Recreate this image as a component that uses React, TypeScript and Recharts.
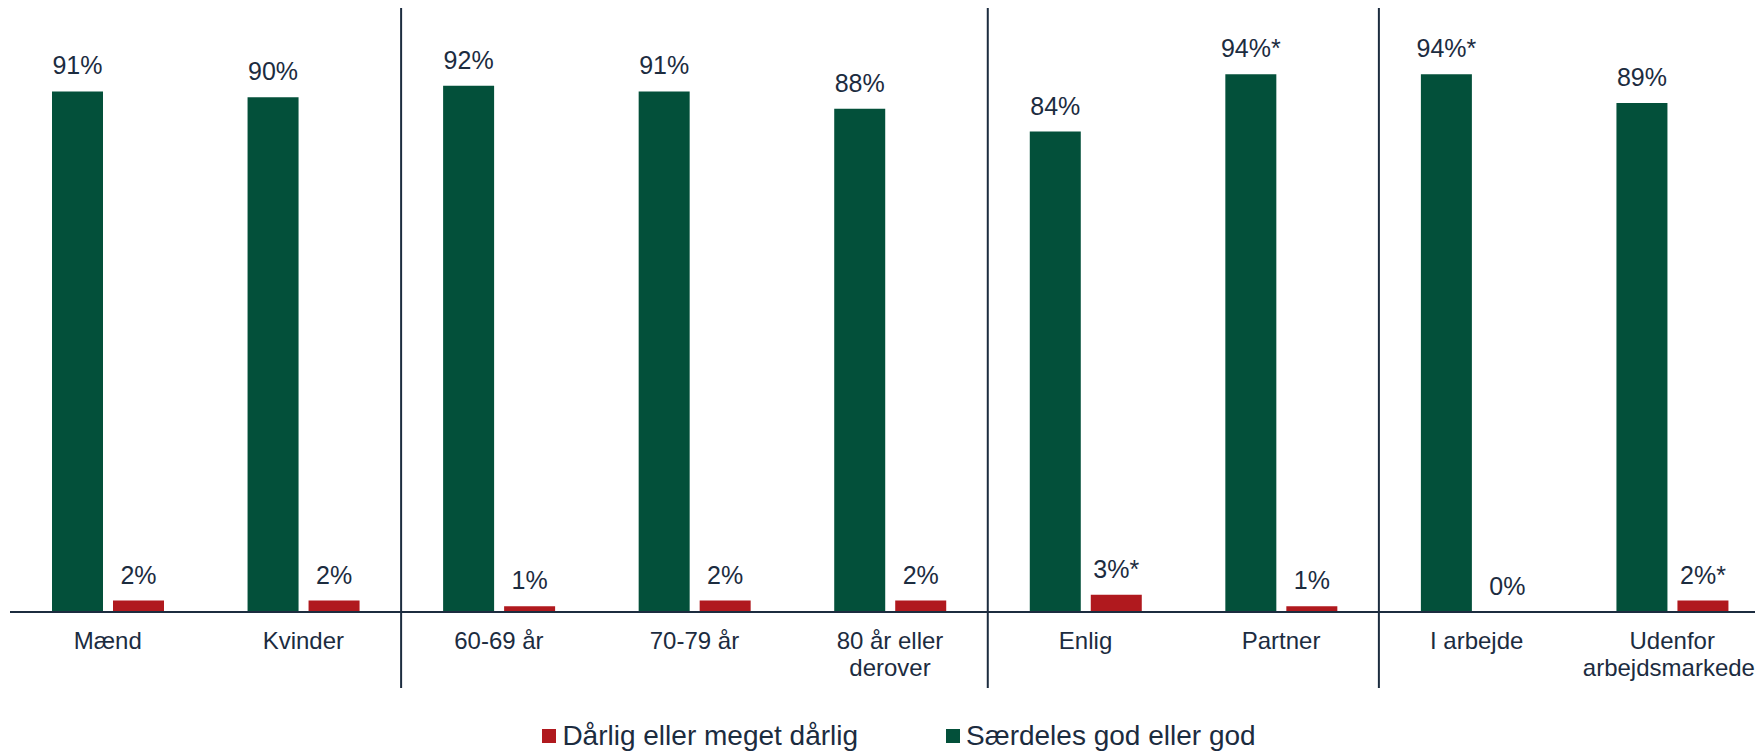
import React from 'react'
import { BarChart, Bar, XAxis, YAxis, LabelList, Legend } from 'recharts'

const categories = [
  'Mænd',
  'Kvinder',
  '60-69 år',
  '70-79 år',
  '80 år eller\nderover',
  'Enlig',
  'Partner',
  'I arbejde',
  'Udenfor\narbejdsmarkedet',
]
const goodValues = [91, 90, 92, 91, 88, 84, 94, 94, 89]
const goodLabels = ['91%', '90%', '92%', '91%', '88%', '84%', '94%*', '94%*', '89%']
const badValues = [2, 2, 1, 2, 2, 3, 1, 0, 2]
const badLabels = ['2%', '2%', '1%', '2%', '2%', '3%*', '1%', '0%', '2%*']
// a divider is drawn before these categories (Alder, Civilstand, Arbejde)
const groupStarts = [2, 5, 7]

const GREEN = '#03503a'
const RED = '#b0191e'
const INK = '#1c2c3f'

const legendItems = [
  { name: 'Dårlig eller meget dårlig', color: RED },
  { name: 'Særdeles god eller god', color: GREEN },
]

const data = categories.map((c, i) => ({
  category: c,
  good: goodValues[i],
  goodLabel: goodLabels[i],
  bad: badValues[i],
  badLabel: badLabels[i],
}))

function CategoryTick(props: any) {
  const { x, y, payload, index } = props
  const lines = String(payload.value).split('\n')
  const half = payload.offset ?? 1760 / categories.length / 2
  return (
    <g>
      {groupStarts.includes(index) && (
        <line x1={x - half} x2={x - half} y1={8} y2={688} stroke={INK} strokeWidth={2} />
      )}
      <text x={x} y={y} textAnchor="middle" fill={INK} fontSize={24}>
        {lines.map((l, i) => (
          <tspan key={i} x={x} dy={i === 0 ? 37 : 26.5}>
            {l}
          </tspan>
        ))}
      </text>
    </g>
  )
}

// label above a bar
function TopLabel(props: any) {
  const { x, y, width, value } = props
  return (
    <text x={Number(x) + Number(width) / 2} y={Number(y) - 17} textAnchor="middle" fill={INK} fontSize={25}>
      {value}
    </text>
  )
}

function ChartLegend() {
  return (
    <div style={{ display: 'flex', justifyContent: 'center', alignItems: 'center', height: 30, paddingLeft: 18 }}>
      {legendItems.map((item, i) => (
        <div key={i} style={{ display: 'flex', alignItems: 'center', marginRight: i === 0 ? 88 : 0 }}>
          <span style={{ display: 'inline-block', width: 14, height: 14, background: item.color, marginRight: 6 }} />
          <span style={{ fontSize: 28, color: INK, lineHeight: '30px' }}>{item.name}</span>
        </div>
      ))}
    </div>
  )
}

export default function App() {
  return (
    <div
      style={{
        position: 'absolute',
        left: 0,
        top: 0,
        width: 1755,
        height: 751,
        overflow: 'hidden',
        background: '#fff',
        fontFamily: '"Liberation Sans", Arial, sans-serif',
      }}
    >
      <BarChart
        width={1771}
        height={751}
        data={data}
        margin={{ top: 40, right: 1, left: 10, bottom: 0 }}
        barSize={51}
        barGap={10}
      >
        <XAxis
          dataKey="category"
          height={109}
          interval={0}
          tickLine={false}
          tickSize={0}
          tickMargin={0}
          axisLine={{ stroke: INK, strokeWidth: 2 }}
          tick={<CategoryTick />}
        />
        <YAxis domain={[0, 100]} hide />
        <Bar dataKey="good" name="Særdeles god eller god" fill={GREEN} isAnimationActive={false}>
          <LabelList dataKey="goodLabel" content={<TopLabel />} />
        </Bar>
        <Bar dataKey="bad" name="Dårlig eller meget dårlig" fill={RED} minPointSize={0.01} isAnimationActive={false}>
          <LabelList dataKey="badLabel" content={<TopLabel />} />
        </Bar>
        <Legend verticalAlign="bottom" content={<ChartLegend />} />
      </BarChart>
    </div>
  )
}
